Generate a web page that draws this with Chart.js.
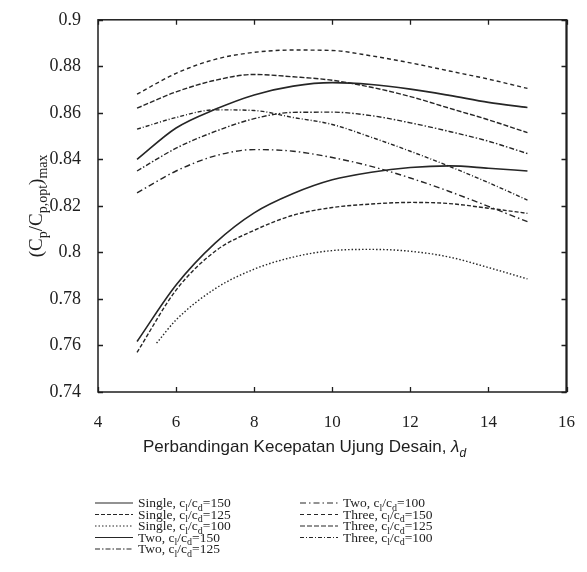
<!DOCTYPE html>
<html>
<head>
<meta charset="utf-8">
<script src="https://cdn.jsdelivr.net/npm/chart.js@4.4.1/dist/chart.umd.min.js"></script>
<style>
  html, body { margin: 0; padding: 0; background: #fff; }
  canvas { display: block; }
</style>
</head>
<body>
<canvas id="chart" width="587" height="572"></canvas>
<script>
// design tip speed ratio (x) and normalized max power coefficient (y)
const lambdaValues = [5, 6, 7, 8, 9, 10, 11, 12, 13, 14, 15];
const lambdaSingle100 = [5.5, 6, 7, 8, 9, 10, 11, 12, 13, 14, 15];

const single150 = [0.7617, 0.786, 0.804, 0.817, 0.8253, 0.8312, 0.8345, 0.8365, 0.8372, 0.8362, 0.835];
const single125 = [0.757, 0.7838, 0.8005, 0.8095, 0.816, 0.8193, 0.8208, 0.8215, 0.821, 0.819, 0.8168];
const single100 = [0.761, 0.771, 0.7844, 0.7928, 0.798, 0.8008, 0.8013, 0.8005, 0.798, 0.7935, 0.7886];
const two150 = [0.84, 0.8535, 0.8615, 0.8677, 0.8715, 0.873, 0.8722, 0.8702, 0.8675, 0.8645, 0.8623];
const two125 = [0.835, 0.8448, 0.852, 0.8575, 0.8602, 0.8603, 0.8588, 0.8557, 0.852, 0.8478, 0.8425];
const two100 = [0.8256, 0.835, 0.8415, 0.8442, 0.8435, 0.8408, 0.837, 0.832, 0.8262, 0.8198, 0.8132];
const three150 = [0.868, 0.877, 0.883, 0.886, 0.887, 0.8868, 0.8845, 0.8815, 0.878, 0.8745, 0.8705];
const three125 = [0.862, 0.869, 0.874, 0.8765, 0.8755, 0.874, 0.871, 0.867, 0.862, 0.857, 0.8515];
const three100 = [0.853, 0.858, 0.8613, 0.861, 0.858, 0.855, 0.8495, 0.8435, 0.837, 0.83, 0.8225];

const seriesNames = ["Single", "Single", "Single", "Two", "Two", "Two", "Three", "Three", "Three"];
const seriesRatios = [150, 125, 100, 150, 125, 100, 150, 125, 100];
const seriesValues = [single150, single125, single100, two150, two125, two100, three150, three125, three100];
const seriesLambdas = [lambdaValues, lambdaValues, lambdaSingle100, lambdaValues, lambdaValues,
  lambdaValues, lambdaValues, lambdaValues, lambdaValues];
const seriesDashes = [[], [4, 2], [1.5, 2], [], [5, 2, 1.5, 2], [6, 3, 1.5, 3], [4, 3], [5, 2], [4, 2, 1, 2]];

const xTickValues = [4, 6, 8, 10, 12, 14, 16];
const yTickValues = [0.74, 0.76, 0.78, 0.8, 0.82, 0.84, 0.86, 0.88, 0.9];

const xTitle = "Perbandingan Kecepatan Ujung Desain, ";
const INK = "#1e1e1e";
const SERIF = "'Liberation Serif', 'DejaVu Serif', serif";
const SANS = "'Liberation Sans', Arial, sans-serif";

// draws text pieces, some lowered as subscripts, returns total width
const drawPieces = (ctx, x, y, pieces, size, subSize, family, doDraw = true) => {
  let cx = x;
  pieces.forEach(({ t, sub, italic }) => {
    const fs = sub ? subSize : size;
    ctx.font = `${italic ? "italic " : ""}${fs}px ${family}`;
    if (doDraw) ctx.fillText(t, cx, sub ? y + size * 0.28 : y);
    cx += ctx.measureText(t).width;
  });
  return cx - x;
};

const frameAndTicksPlugin = {
  id: "frameAndTicks",
  afterDatasetsDraw(chart) {
    const { ctx, chartArea: { left, right, top, bottom }, scales: { x, y } } = chart;
    ctx.save();
    ctx.strokeStyle = INK;
    ctx.lineWidth = 1.3;
    ctx.beginPath();
    xTickValues.forEach((v) => {
      const px = Math.round(x.getPixelForValue(v)) + 0.5;
      ctx.moveTo(px, top); ctx.lineTo(px, top + 5);
      ctx.moveTo(px, bottom); ctx.lineTo(px, bottom - 5);
    });
    yTickValues.forEach((v) => {
      const py = Math.round(y.getPixelForValue(v)) + 0.5;
      ctx.moveTo(left, py); ctx.lineTo(left + 5, py);
      ctx.moveTo(right, py); ctx.lineTo(right - 5, py);
    });
    ctx.stroke();
    ctx.lineWidth = 1.5;
    ctx.strokeRect(left, top, right - left, bottom - top);
    ctx.lineWidth = 2;
    ctx.beginPath();
    ctx.moveTo(right, top); ctx.lineTo(right, bottom);
    ctx.stroke();
    ctx.restore();
  },
};

const titlesAndLegendPlugin = {
  id: "titlesAndLegend",
  afterDraw(chart) {
    const { ctx, chartArea: { top, bottom } } = chart;
    ctx.save();
    ctx.fillStyle = INK;
    ctx.textBaseline = "alphabetic";
    ctx.textAlign = "left";

    // y axis title, rotated
    const yPieces = [
      { t: "(C" }, { t: "p", sub: true }, { t: "/C" }, { t: "p,opt", sub: true },
      { t: ")" }, { t: "max", sub: true },
    ];
    ctx.save();
    ctx.translate(42, (top + bottom) / 2);
    ctx.rotate(-Math.PI / 2);
    const yw = drawPieces(ctx, 0, 0, yPieces, 19, 14, SERIF, false);
    drawPieces(ctx, -yw / 2, 0, yPieces, 19, 14, SERIF);
    ctx.restore();

    // x axis title
    drawPieces(ctx, 143, 452, [
      { t: xTitle }, { t: "λ", italic: true }, { t: "d", sub: true, italic: true },
    ], 17, 12, SANS);

    // legend in two columns
    chart.data.datasets.forEach((ds, i) => {
      const col = i < 5 ? 0 : 1;
      const row = i < 5 ? i : i - 5;
      const lx = col === 0 ? 95 : 300;
      const base = 507 + row * 11.5;
      ctx.strokeStyle = ds.borderColor;
      ctx.lineWidth = 1.2;
      ctx.setLineDash(ds.borderDash);
      ctx.beginPath();
      ctx.moveTo(lx, base - 4);
      ctx.lineTo(lx + 38, base - 4);
      ctx.stroke();
      ctx.setLineDash([]);
      drawPieces(ctx, lx + 43, base, [
        { t: `${seriesNames[i]}, c` }, { t: "l", sub: true }, { t: "/c" }, { t: "d", sub: true },
        { t: `=${seriesRatios[i]}` },
      ], 13.5, 10, SERIF);
    });
    ctx.restore();
  },
};

const datasets = seriesValues.map((values, i) => ({
  label: `${seriesNames[i]}, cl/cd=${seriesRatios[i]}`,
  data: values.map((v, j) => ({ x: seriesLambdas[i][j], y: v })),
  borderColor: "#262626",
  borderWidth: seriesDashes[i].length ? 1.4 : 1.6,
  borderDash: seriesDashes[i],
  pointRadius: 0,
  cubicInterpolationMode: "monotone",
  fill: false,
}));

new Chart(document.getElementById("chart"), {
  type: "line",
  data: { datasets },
  plugins: [frameAndTicksPlugin, titlesAndLegendPlugin],
  options: {
    responsive: false,
    animation: false,
    devicePixelRatio: 1,
    layout: { padding: { top: 19, right: 15, left: 0, bottom: 0 } },
    plugins: {
      legend: { display: false },
      tooltip: { enabled: false },
    },
    scales: {
      x: {
        type: "linear",
        min: 4,
        max: 16,
        grid: { display: false },
        border: { display: false },
        afterBuildTicks: (s) => { s.ticks = xTickValues.map((value) => ({ value })); },
        afterFit: (s) => { s.height = 180; },
        ticks: {
          color: INK,
          padding: 12,
          maxRotation: 0,
          font: { family: SERIF, size: 17 },
        },
      },
      y: {
        min: 0.74,
        max: 0.9,
        grid: { display: false },
        border: { display: false },
        afterBuildTicks: (s) => { s.ticks = yTickValues.map((value) => ({ value })); },
        afterFit: (s) => { s.width = 98; },
        ticks: {
          color: INK,
          padding: 9,
          font: { family: SERIF, size: 18 },
          callback: (v) => String(parseFloat(Number(v).toFixed(2))),
        },
      },
    },
  },
});
</script>
</body>
</html>
